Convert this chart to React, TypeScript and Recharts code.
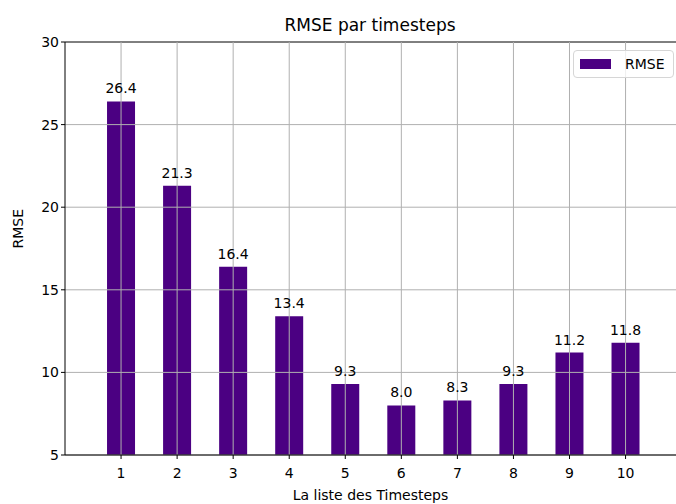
import { BarChart, Bar, XAxis, YAxis, ReferenceLine, LabelList, Legend } from 'recharts';

const timesteps = [1, 2, 3, 4, 5, 6, 7, 8, 9, 10];
const rmseValues = [26.4, 21.3, 16.4, 13.4, 9.3, 8.0, 8.3, 9.3, 11.2, 11.8];
const yTicks = [5, 10, 15, 20, 25, 30];

const FONT = '"DejaVu Sans", sans-serif';
const GRID = '#b0b0b0';

const data = timesteps.map((t, i) => ({ t, rmse: rmseValues[i] }));

function LegendBox() {
  return (
    <div
      style={{
        display: 'flex',
        alignItems: 'center',
        border: '1px solid #d6d6d6',
        borderRadius: 4,
        background: 'rgba(255,255,255,0.8)',
        padding: '5px 8px 5px 6px',
        fontFamily: FONT,
        fontSize: 14,
        color: '#000',
      }}
    >
      <span style={{ display: 'inline-block', width: 31, height: 10, background: '#4b0082', marginRight: 14 }} />
      <span>RMSE</span>
    </div>
  );
}

export default function App() {
  return (
    <div style={{ position: 'absolute', left: 0, top: 0, width: 676, height: 504, background: '#fff' }}>
      <div
        style={{
          position: 'absolute',
          left: 65,
          width: 610,
          top: 15,
          textAlign: 'center',
          fontFamily: FONT,
          fontSize: 17,
          color: '#000',
        }}
      >
        RMSE par timesteps
      </div>
      <BarChart width={676} height={504} data={data} margin={{ top: 42, right: 0, bottom: 0, left: 0 }}>
        <XAxis
          dataKey="t"
          type="number"
          domain={[0, 10.9]}
          ticks={timesteps}
          allowDataOverflow
          height={49}
          tickSize={4}
          stroke="#000"
          tick={{ fill: '#000', fontSize: 14, fontFamily: FONT, dy: 7 }}
          label={{ value: 'La liste des Timesteps', position: 'insideBottom', offset: 4, fill: '#000', fontSize: 14, fontFamily: FONT }}
        />
        <YAxis
          type="number"
          domain={[5, 30]}
          ticks={yTicks}
          width={65}
          tickSize={4}
          stroke="#000"
          allowDataOverflow
          tick={{ fill: '#000', fontSize: 14, fontFamily: FONT }}
          label={{ value: 'RMSE', angle: -90, position: 'insideLeft', offset: 18, fill: '#000', fontSize: 14, fontFamily: FONT }}
        />
        <Legend
          layout="horizontal"
          verticalAlign="middle"
          align="center"
          content={<LegendBox />}
          wrapperStyle={{ top: 50, left: 573, width: 'auto' }}
        />
        <Bar dataKey="rmse" name="RMSE" fill="#4b0082" barSize={28} isAnimationActive={false}>
          <LabelList
            dataKey="rmse"
            position="top"
            offset={8}
            formatter={(v: number) => v.toFixed(1)}
            style={{ fill: '#000', fontSize: 14, fontFamily: FONT }}
          />
        </Bar>
        {yTicks.map((y) => (
          <ReferenceLine key={'y' + y} y={y} stroke={y === 30 ? '#000' : GRID} strokeWidth={1} />
        ))}
        {timesteps.map((t) => (
          <ReferenceLine key={'x' + t} x={t} stroke={GRID} strokeWidth={1} />
        ))}
      </BarChart>
    </div>
  );
}
